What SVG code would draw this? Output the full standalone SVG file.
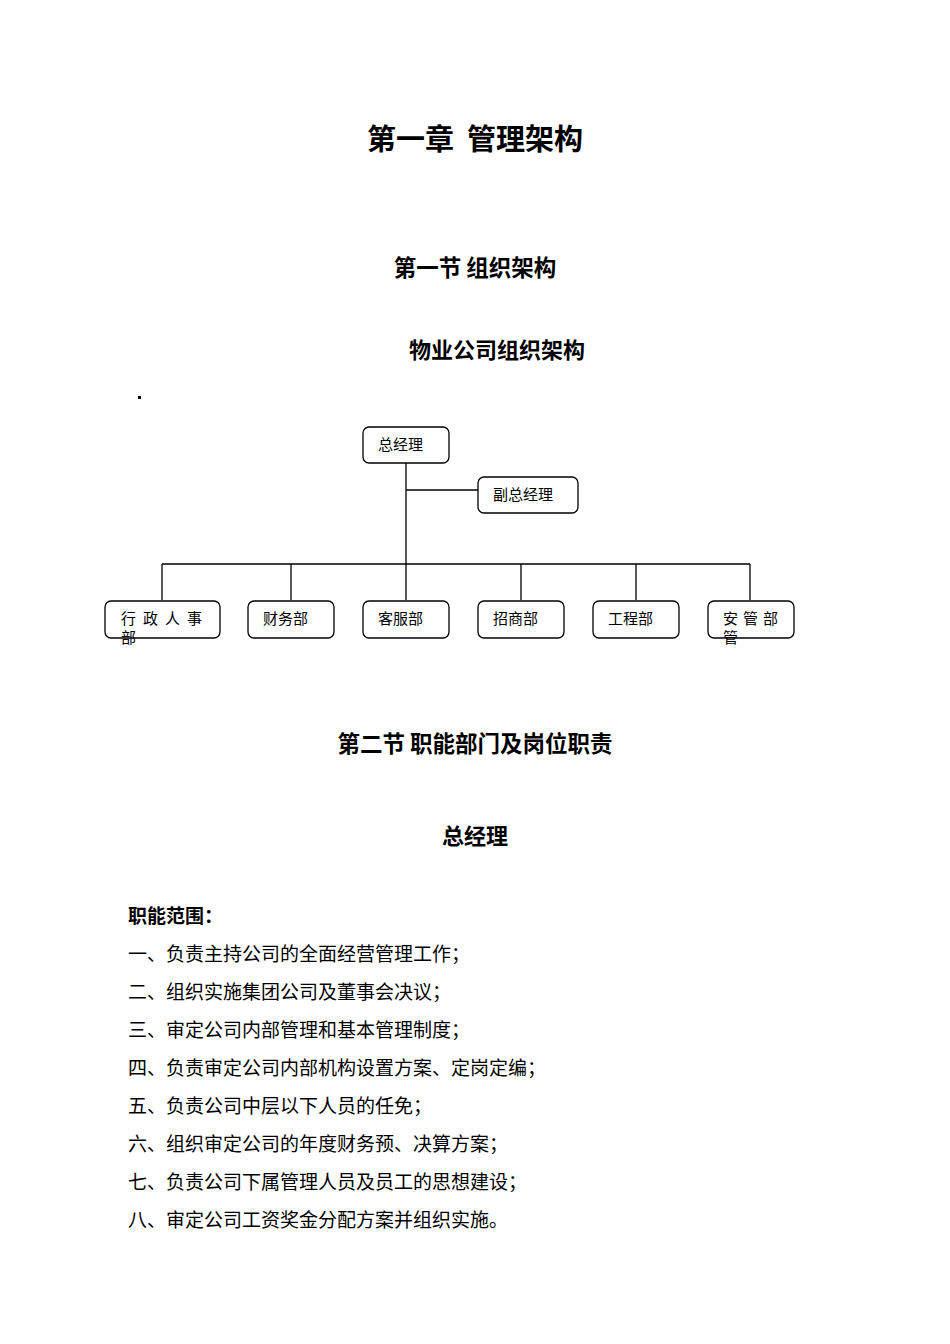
<svg xmlns="http://www.w3.org/2000/svg" width="950" height="1344" viewBox="0 0 950 1344">
<style>
.h{font-family:"Noto Sans CJK SC",sans-serif;font-weight:bold;fill:#000;text-anchor:middle}
.n{font-family:"Noto Sans CJK SC",serif;font-size:15px;fill:#000}
.b{font-family:"Noto Sans CJK SC",sans-serif;font-size:19px;fill:#000}
.box{fill:#fff;stroke:#000;stroke-width:1.3}
.c{stroke:#000;stroke-width:1.3;fill:none}
</style>
<rect width="950" height="1344" fill="#fff"/>
<text class="h" x="475" y="150" font-size="29">第一章&#160; 管理架构</text>
<text class="h" x="475" y="276" font-size="22.5">第一节 组织架构</text>
<text class="h" x="497" y="358" font-size="22">物业公司组织架构</text>
<rect x="138" y="396" width="3" height="3" fill="#000"/>
<g id="connectors">
<path class="c" d="M406 463V600M406 490H478M162 564H750M162 564V600M291 564V600M521 564V600M636 564V600M750 564V600"/>
</g>
<g id="n0"><rect class="box" x="363" y="427" width="86" height="36" rx="6"/><text class="n" x="378" y="450">总经理</text></g>
<g id="n1"><rect class="box" x="478" y="477" width="100" height="36" rx="6"/><text class="n" x="493" y="500">副总经理</text></g>
<g id="n2"><rect class="box" x="105" y="601" width="115" height="37" rx="6"/><text class="n" x="121" y="624" letter-spacing="7">行政人事</text><text class="n" x="121" y="643">部</text></g>
<g id="n3"><rect class="box" x="248" y="601" width="86" height="37" rx="6"/><text class="n" x="263" y="624">财务部</text></g>
<g id="n4"><rect class="box" x="363" y="601" width="86" height="37" rx="6"/><text class="n" x="378" y="624">客服部</text></g>
<g id="n5"><rect class="box" x="478" y="601" width="86" height="37" rx="6"/><text class="n" x="493" y="624">招商部</text></g>
<g id="n6"><rect class="box" x="593" y="601" width="86" height="37" rx="6"/><text class="n" x="608" y="624">工程部</text></g>
<g id="n7"><rect class="box" x="708" y="601" width="86" height="37" rx="6"/><text class="n" x="723" y="624" letter-spacing="5">安管部</text><text class="n" x="723" y="643">管</text></g>
<text class="h" x="475" y="752" font-size="22.5">第二节 职能部门及岗位职责</text>
<text class="h" x="475" y="844" font-size="22">总经理</text>
<text class="b" x="128" y="923" font-weight="bold" font-size="18">职能范围：</text>
<text class="b" x="128" y="961">一、负责主持公司的全面经营管理工作；</text>
<text class="b" x="128" y="999">二、组织实施集团公司及董事会决议；</text>
<text class="b" x="128" y="1037">三、审定公司内部管理和基本管理制度；</text>
<text class="b" x="128" y="1075">四、负责审定公司内部机构设置方案、定岗定编；</text>
<text class="b" x="128" y="1113">五、负责公司中层以下人员的任免；</text>
<text class="b" x="128" y="1151">六、组织审定公司的年度财务预、决算方案；</text>
<text class="b" x="128" y="1189">七、负责公司下属管理人员及员工的思想建设；</text>
<text class="b" x="128" y="1227">八、审定公司工资奖金分配方案并组织实施。</text>
</svg>
